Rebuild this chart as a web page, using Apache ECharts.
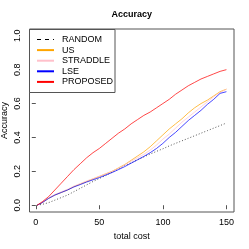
<!DOCTYPE html>
<html>
<head>
<meta charset="utf-8">
<script src="https://cdn.jsdelivr.net/npm/echarts@6/dist/echarts.min.js"></script>
<style>html,body{margin:0;padding:0;background:#fff}#c{width:249px;height:249px}</style>
</head>
<body>
<div id="c"></div>
<script>
const cost = [1,5,10,15,20,25,30,35,40,45,50,55,60,65,70,75,80,85,90,95,100,105,110,115,120,125,130,135,140,145,150];
const randomAcc = [0,0.005,0.015,0.03,0.045,0.06,0.08,0.1,0.12,0.14,0.158,0.175,0.195,0.215,0.235,0.25,0.268,0.285,0.302,0.318,0.333,0.35,0.365,0.38,0.395,0.41,0.425,0.44,0.455,0.47,0.485];
const usAcc = [0,0.015,0.04,0.06,0.075,0.09,0.11,0.125,0.14,0.155,0.17,0.185,0.2,0.22,0.24,0.265,0.29,0.315,0.345,0.38,0.415,0.45,0.48,0.51,0.545,0.575,0.6,0.62,0.645,0.67,0.685];
const straddleAcc = [0,0.016,0.042,0.063,0.079,0.094,0.113,0.128,0.143,0.157,0.171,0.186,0.2,0.218,0.238,0.26,0.28,0.3,0.325,0.355,0.39,0.42,0.455,0.49,0.52,0.55,0.58,0.61,0.64,0.665,0.685];
const lseAcc = [0,0.015,0.04,0.06,0.075,0.09,0.108,0.122,0.137,0.15,0.163,0.178,0.193,0.21,0.228,0.248,0.268,0.288,0.31,0.335,0.365,0.4,0.43,0.465,0.5,0.53,0.56,0.595,0.625,0.66,0.67];
const proposedAcc = [0,0.02,0.05,0.09,0.13,0.17,0.21,0.245,0.28,0.31,0.335,0.365,0.395,0.425,0.45,0.48,0.505,0.53,0.55,0.575,0.6,0.625,0.655,0.68,0.705,0.725,0.745,0.76,0.775,0.79,0.8];
const xTicks = [0,50,100,150];
const yTicks = [0,0.2,0.4,0.6,0.8,1.0];
const names = ['RANDOM','US','STRADDLE','LSE','PROPOSED'];
const colors = ['#555555','#FFA500','#FFC0CB','#0000FF','#FF0000'];
const values = [randomAcc, usAcc, straddleAcc, lseAcc, proposedAcc];

const FONT = 'Liberation Sans, Arial, sans-serif';
const chart = echarts.init(document.getElementById('c'), null, {renderer:'canvas'});
const series = names.map((n,i)=>({
  name:n, type:'line', symbol:'none', animation:false,
  data: cost.map((c,j)=>[c, values[i][j]]),
  lineStyle:{color:colors[i], width:1, type: i===0 ? [1,2] : 'solid', opacity: i===0 ? 1 : 0.72},
  itemStyle:{color:colors[i]},
  z: 2
}));
chart.setOption({
  animation:false,
  grid:{left:29.5, right:15, top:29, bottom:37, show:true, borderColor:'#555', borderWidth:1, backgroundColor:'transparent', outerBoundsMode:'none'},
  xAxis:{type:'value', min:-4.96, max:155.96,
    axisLine:{show:false}, splitLine:{show:false},
    axisTick:{show:true, customValues:xTicks, length:4, inside:false, lineStyle:{color:'#555'}},
    axisLabel:{customValues:xTicks, margin:6, fontSize:9, fontFamily:FONT, color:'#000'}},
  yAxis:{type:'value', min:-0.04, max:1.04,
    axisLine:{show:false}, splitLine:{show:false},
    axisTick:{show:true, customValues:yTicks, length:4, inside:false, lineStyle:{color:'#555'}},
    axisLabel:{customValues:yTicks, rotate:90, margin:7, fontSize:9, fontFamily:FONT, color:'#000', formatter:v=>v.toFixed(1)}},
  legend:{orient:'vertical', left:36, top:35, padding:0, itemWidth:17, itemHeight:9, itemGap:1.6, z:20,
    itemStyle:{opacity:0, borderWidth:0},
    textStyle:{fontSize:9, fontFamily:FONT, color:'#000', lineHeight:9, padding:[0,0,0,3]},
    data: names.map((n,i)=>({name:n, itemStyle:{opacity:0, borderWidth:0}, lineStyle: i===0 ? {color:'#000', type:[4,4], width:1, opacity:1} : {opacity:1}}))},
  graphic:[
    {type:'rect', z:10, shape:{x:29.5, y:29.5, width:85.5, height:63}, style:{fill:'#fff', stroke:'#555', lineWidth:1}, silent:true},
    {type:'text', x:131.75, y:14.7, style:{text:'Accuracy', font:'bold 9px '+FONT, fill:'#000', align:'center', verticalAlign:'middle'}},
    {type:'text', x:131.75, y:236.7, style:{text:'total cost', font:'9px '+FONT, fill:'#000', align:'center', verticalAlign:'middle'}},
    {type:'text', x:5, y:120.5, rotation:Math.PI/2, style:{text:'Accuracy', font:'9px '+FONT, fill:'#000', align:'center', verticalAlign:'middle'}}
  ],
  series: series
});
</script>
</body>
</html>
